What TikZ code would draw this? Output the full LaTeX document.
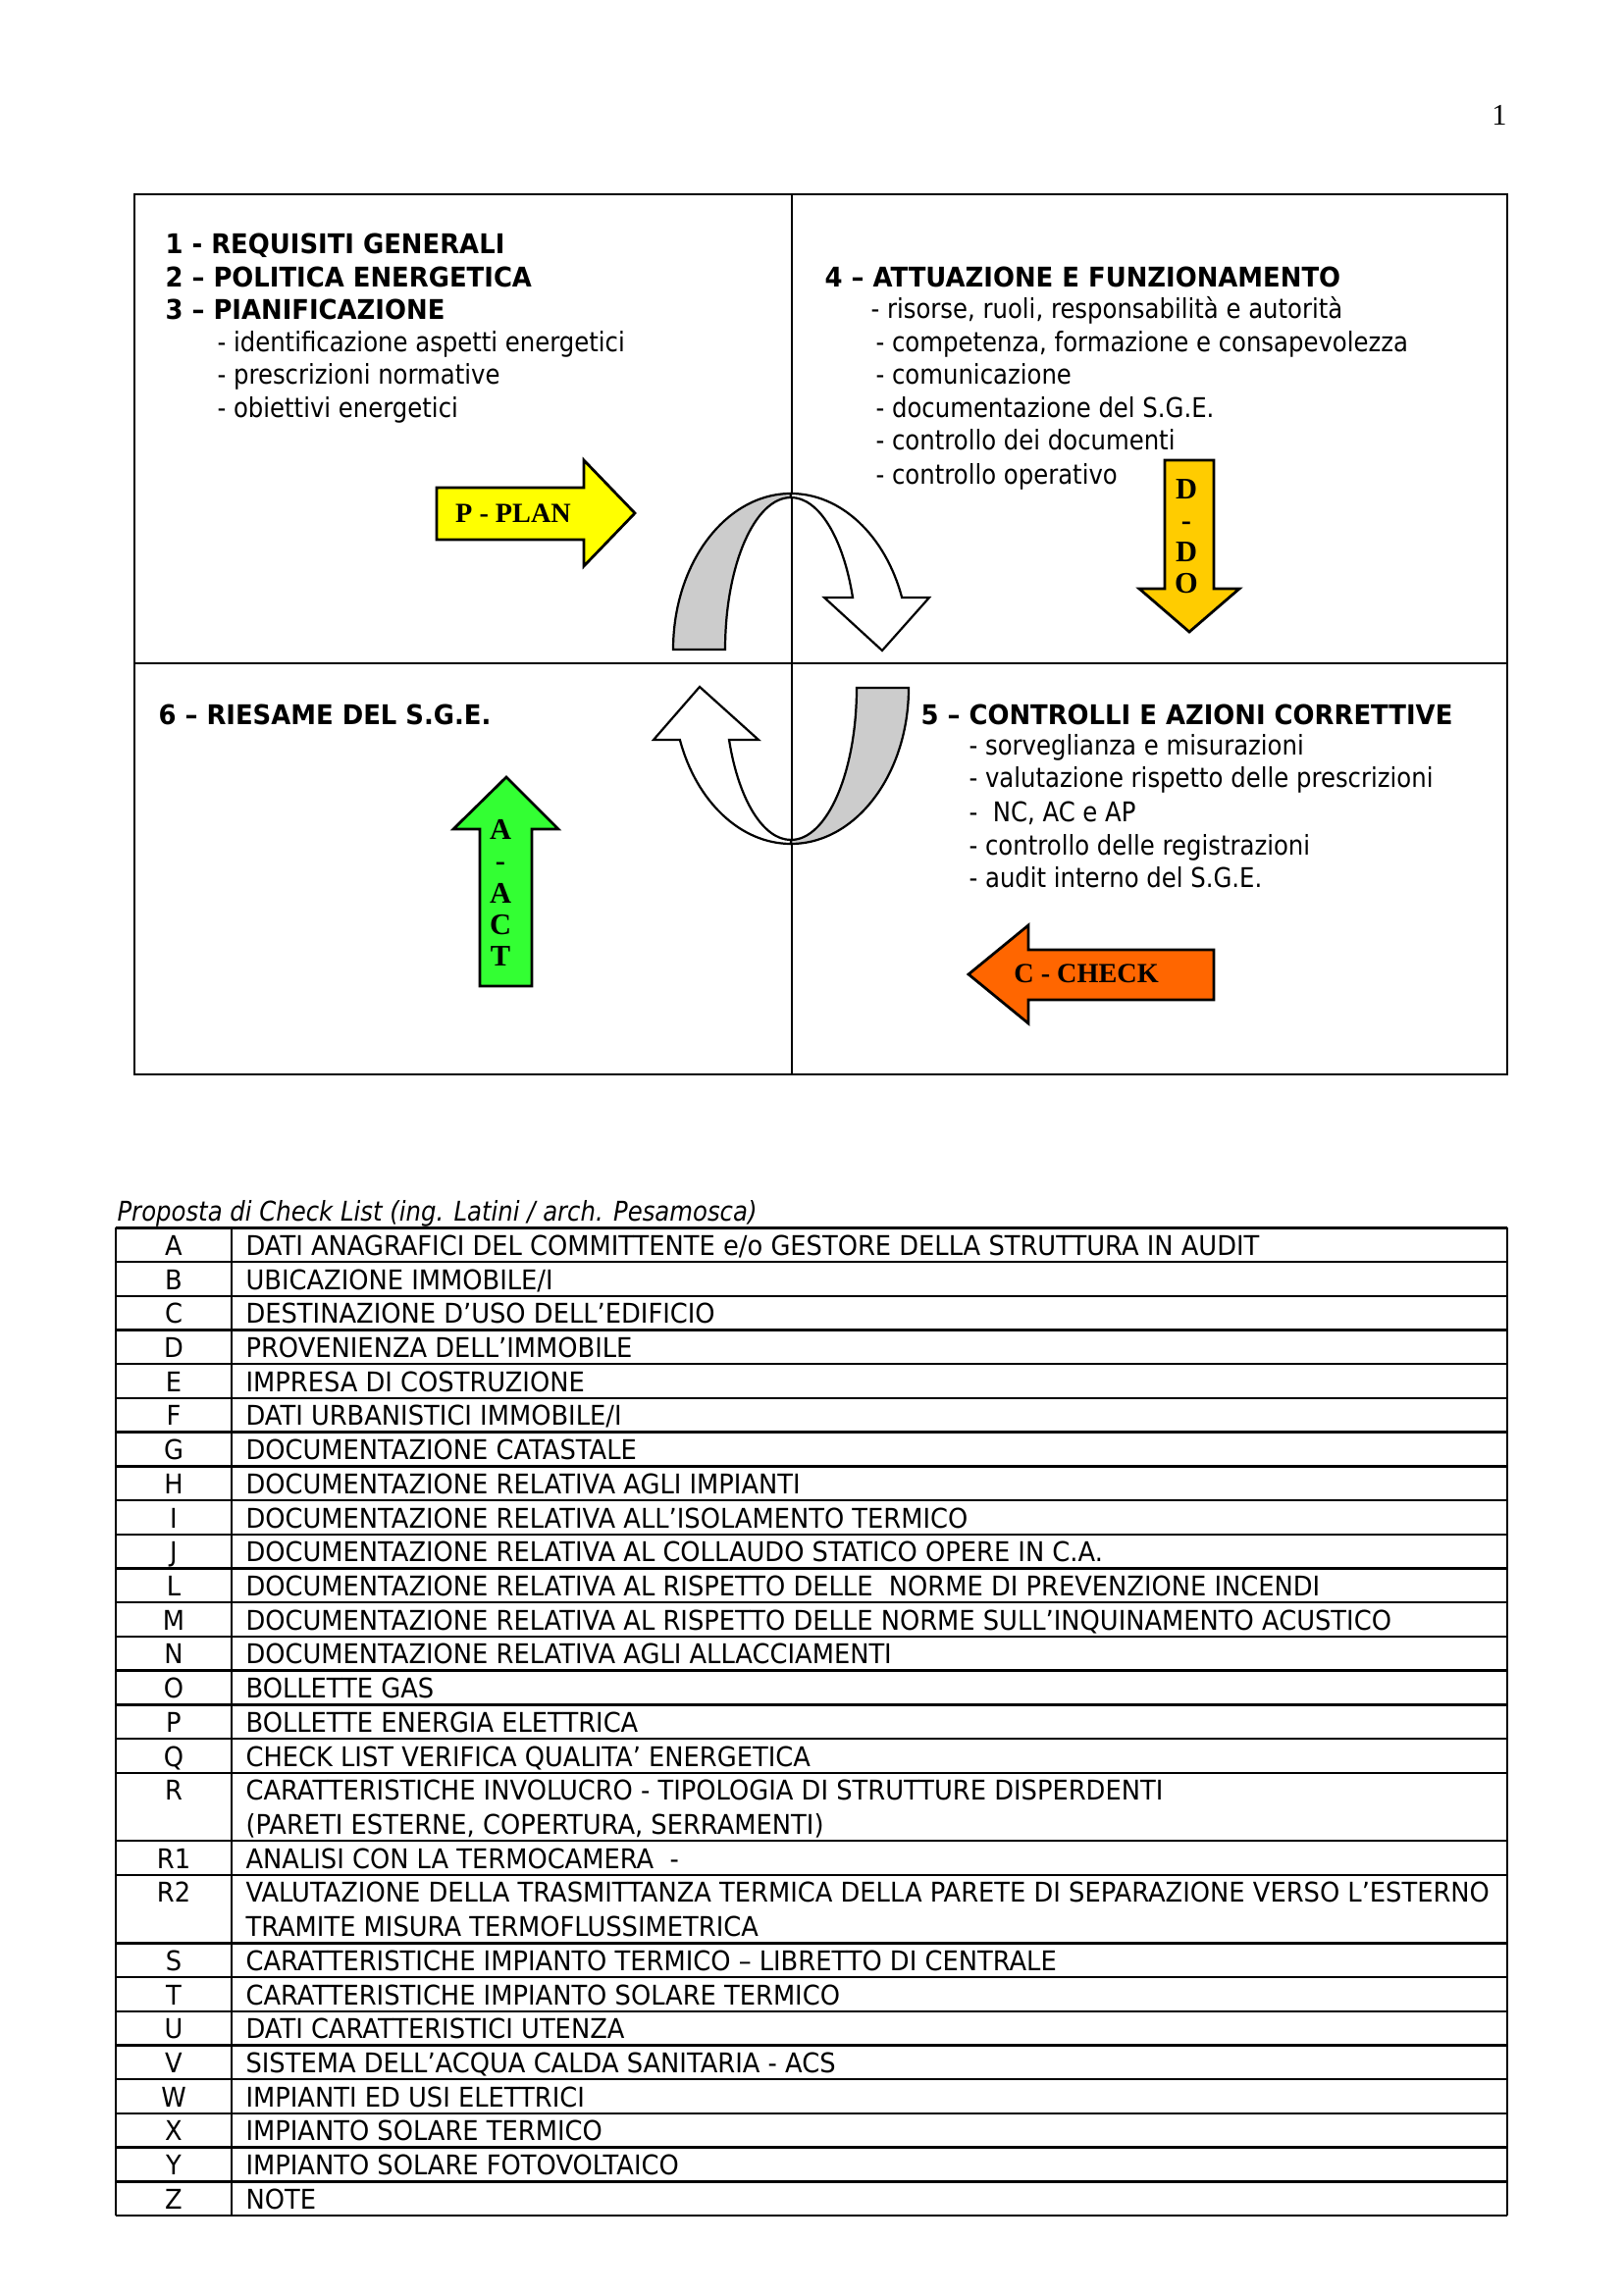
\documentclass[tikz,border=0pt]{standalone}
\usepackage{fontspec}
\setmainfont{DejaVu Sans}[FakeStretch=0.88]
\newfontfamily\hdrfont{DejaVu Sans}[FakeStretch=0.935]
\newfontfamily\tablefont{DejaVu Sans}[FakeStretch=0.93]
\newfontfamily\timesfont{Liberation Serif}
\usepackage{xcolor}
\usetikzlibrary{positioning}

\definecolor{plancol}{HTML}{FFFF00}
\definecolor{docol}{HTML}{FFCC00}
\definecolor{actcol}{HTML}{33FF33}
\definecolor{checkcol}{HTML}{FF6600}
\definecolor{ribgray}{HTML}{CCCCCC}

\begin{document}
\begin{tikzpicture}[
    x=0.127mm, y=-0.127mm,
    every node/.style={inner sep=0pt, font=\fontsize{10}{12}\selectfont},
    hdr/.style={anchor=base west, font=\hdrfont\fontsize{10}{12}\selectfont\bfseries},
    item/.style={anchor=base west},
    bigarrow/.style={draw, line width=1pt, line join=miter},
    ribbon/.style={draw, line width=0.8pt, line join=miter},
    letter/.style={font=\timesfont\bfseries\fontsize{10.2}{11}\selectfont},
    vletters/.style={align=center, font=\timesfont\bfseries\fontsize{11}{11.6}\selectfont},
    cell/.style={anchor=base, font=\tablefont\fontsize{10}{12}\selectfont},
    celltxt/.style={anchor=base west, font=\tablefont\fontsize{10}{12}\selectfont}
  ]
  \useasboundingbox (0,0) rectangle (1654,2339);

  \node[font=\timesfont\fontsize{11}{11}\selectfont] (pagenum) at (1528,117) {1};

  % PDCA frame
  \draw[line width=1pt] (137,198) rectangle (1536,1095);
  \draw[line width=1pt] (807,198) -- (807,1095);
  \draw[line width=1pt] (137,676) -- (1536,676);

  % plan
  \node[hdr] (req) at (168,259) {1 - REQUISITI GENERALI};
  \node[hdr] (pol) at (168,293) {2 – POLITICA ENERGETICA};
  \node[hdr] (pian) at (168,326) {3 – PIANIFICAZIONE};
  \node[item] (pian1) at (221,359) {- identificazione aspetti energetici};
  \node[item] (pian2) at (221,392) {- prescrizioni normative};
  \node[item] (pian3) at (221,426) {- obiettivi energetici};

  % do
  \node[hdr] (attu) at (840,293) {4 – ATTUAZIONE E FUNZIONAMENTO};
  \node[item] (attu1) at (887,325) {- risorse, ruoli, responsabilità e autorità};
  \node[item] (attu2) at (892,359) {- competenza, formazione e consapevolezza};
  \node[item] (attu3) at (892,392) {- comunicazione};
  \node[item] (attu4) at (892,426) {- documentazione del S.G.E.};
  \node[item] (attu5) at (892,459) {- controllo dei documenti};
  \node[item] (attu6) at (892,494) {- controllo operativo};

  % act
  \node[hdr] (ries) at (161,738) {6 – RIESAME DEL S.G.E.};

  % check
  \node[hdr] (ctrl) at (938,738) {5 – CONTROLLI E AZIONI CORRETTIVE};
  \node[item] (ctrl1) at (987,770) {- sorveglianza e misurazioni};
  \node[item] (ctrl2) at (987,803) {- valutazione rispetto delle prescrizioni};
  \node[item] (ctrl3) at (987,837) {-\ \ NC, AC e AP};
  \node[item] (ctrl4) at (987,871) {- controllo delle registrazioni};
  \node[item] (ctrl5) at (987,904) {- audit interno del S.G.E.};

  % upper ribbon
  \draw[ribbon, fill=ribgray] (686,662) arc[start angle=180, end angle=270, x radius=120, y radius=159]
    -- (806,507) arc[start angle=270, end angle=180, x radius=67, y radius=155] -- cycle;
  \draw[ribbon, fill=white] (806,503) arc[start angle=270, end angle=340.5, x radius=120, y radius=159]
    -- (947,609) -- (899,663) -- (840,609) -- (869,609)
    arc[start angle=340, end angle=270, x radius=67, y radius=155] -- cycle;

  % lower ribbon
  \draw[ribbon, fill=ribgray] (926,701) arc[start angle=0, end angle=90, x radius=120, y radius=159]
    -- (806,856) arc[start angle=90, end angle=0, x radius=67, y radius=155] -- cycle;
  \draw[ribbon, fill=white] (806,860) arc[start angle=90, end angle=160.5, x radius=120, y radius=159]
    -- (666,754) -- (713,700) -- (773,754) -- (743,754)
    arc[start angle=160, end angle=90, x radius=67, y radius=155] -- cycle;

  % phase arrows
  \draw[bigarrow, fill=plancol] (445,497) -- (595,497) -- (595,469) -- (647,523)
    -- (595,577) -- (595,550) -- (445,550) -- cycle;
  \node[letter] (plan) at (523,523) {P - PLAN};

  \draw[bigarrow, fill=docol] (1187,469) -- (1237,469) -- (1237,600) -- (1263,600)
    -- (1212,644) -- (1161,600) -- (1187,600) -- cycle;
  \node[vletters] (do) at (1209,547) {D\\-\\D\\O};

  \draw[bigarrow, fill=actcol] (489,1005) -- (489,845) -- (462,845) -- (516,792)
    -- (569,845) -- (542,845) -- (542,1005) -- cycle;
  \node[vletters] (act) at (510,910) {A\\-\\A\\C\\T};

  \draw[bigarrow, fill=checkcol] (1237,968) -- (1048,968) -- (1048,943) -- (987,993)
    -- (1048,1043) -- (1048,1019) -- (1237,1019) -- cycle;
  \node[letter] (check) at (1107,992) {C - CHECK};

  % check list
  \node[anchor=base west, font=\fontsize{10}{12}\selectfont\itshape] (caption) at (119,1244)
    {Proposta di Check List (ing. Latini / arch. Pesamosca)};

  \foreach \i/\lab/\txt in {
      0/A/{DATI ANAGRAFICI DEL COMMITTENTE e/o GESTORE DELLA STRUTTURA IN AUDIT},
      1/B/{UBICAZIONE IMMOBILE/I},
      2/C/{DESTINAZIONE D’USO DELL’EDIFICIO},
      3/D/{PROVENIENZA DELL’IMMOBILE},
      4/E/{IMPRESA DI COSTRUZIONE},
      5/F/{DATI URBANISTICI IMMOBILE/I},
      6/G/{DOCUMENTAZIONE CATASTALE},
      7/H/{DOCUMENTAZIONE RELATIVA AGLI IMPIANTI},
      8/I/{DOCUMENTAZIONE RELATIVA ALL’ISOLAMENTO TERMICO},
      9/J/{DOCUMENTAZIONE RELATIVA AL COLLAUDO STATICO OPERE IN C.A.},
      10/L/{DOCUMENTAZIONE RELATIVA AL RISPETTO DELLE\ \ NORME DI PREVENZIONE INCENDI},
      11/M/{DOCUMENTAZIONE RELATIVA AL RISPETTO DELLE NORME SULL’INQUINAMENTO ACUSTICO},
      12/N/{DOCUMENTAZIONE RELATIVA AGLI ALLACCIAMENTI},
      13/O/{BOLLETTE GAS},
      14/P/{BOLLETTE ENERGIA ELETTRICA},
      15/Q/{CHECK LIST VERIFICA QUALITA’ ENERGETICA},
      16/R/{CARATTERISTICHE INVOLUCRO - TIPOLOGIA DI STRUTTURE DISPERDENTI},
      18/R1/{ANALISI CON LA TERMOCAMERA\ \ -},
      19/R2/{VALUTAZIONE DELLA TRASMITTANZA TERMICA DELLA PARETE DI SEPARAZIONE VERSO L’ESTERNO},
      21/S/{CARATTERISTICHE IMPIANTO TERMICO – LIBRETTO DI CENTRALE},
      22/T/{CARATTERISTICHE IMPIANTO SOLARE TERMICO},
      23/U/{DATI CARATTERISTICI UTENZA},
      24/V/{SISTEMA DELL’ACQUA CALDA SANITARIA - ACS},
      25/W/{IMPIANTI ED USI ELETTRICI},
      26/X/{IMPIANTO SOLARE TERMICO},
      27/Y/{IMPIANTO SOLARE FOTOVOLTAICO},
      28/Z/{NOTE}} {
    \draw[line width=0.9pt] (118,1251.4+\i*34.71) -- (1536,1251.4+\i*34.71);
    \node[cell] (l\lab) at (177,1279.4+\i*34.71) {\lab};
    \node[celltxt] (t\lab) at (250,1279.4+\i*34.71) {\txt};
  }
  \node[celltxt] (tR b) at (250,1279.4+17*34.71) {(PARETI ESTERNE, COPERTURA, SERRAMENTI)};
  \node[celltxt] (tR2 b) at (250,1279.4+20*34.71) {TRAMITE MISURA TERMOFLUSSIMETRICA};

  \draw[line width=0.9pt] (118,2258) -- (1536,2258);
  \draw[line width=0.9pt] (118,1251.4) -- (118,2258);
  \draw[line width=0.9pt] (236,1251.4) -- (236,2258);
  \draw[line width=0.9pt] (1536,1251.4) -- (1536,2258);
\end{tikzpicture}
\end{document}
